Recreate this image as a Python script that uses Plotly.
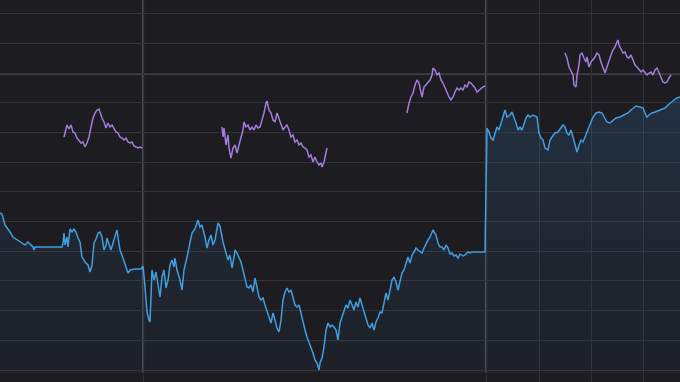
import plotly.graph_objects as go

# Blue series (index level) : day index and value
blue_day = [0, 2, 5, 8, 10, 13, 17, 22, 25, 28, 30, 33, 34, 35, 62, 63, 64, 65, 67, 68,
            70, 72, 74, 76, 78, 80, 82, 85, 88, 90, 92, 94, 96, 98, 100, 102, 104, 106, 107, 109,
            111, 113, 115, 117, 118, 120, 123, 126, 128, 130, 135, 141, 143, 145, 147, 149, 150, 152, 154, 156,
            158, 160, 162, 164, 166, 168, 170, 172, 174, 175, 177, 180, 182, 184, 187, 190, 192, 195, 198, 200,
            202, 205, 207, 209, 211, 213, 215, 218, 220, 223, 226, 228, 230, 232, 234, 235, 237, 239, 241, 243,
            245, 247, 249, 251, 253, 255, 257, 259, 261, 263, 265, 267, 269, 271, 273, 275, 277, 279, 281, 283,
            285, 287, 289, 291, 293, 295, 297, 299, 301, 303, 305, 307, 309, 311, 313, 315, 317, 319, 320, 322,
            324, 326, 328, 330, 332, 334, 336, 338, 340, 342, 344, 346, 348, 350, 352, 354, 356, 358, 360, 362,
            364, 366, 368, 370, 372, 374, 376, 378, 380, 382, 384, 386, 388, 390, 392, 394, 396, 398, 400, 402,
            404, 406, 408, 410, 412, 414, 416, 418, 420, 422, 424, 426, 428, 430, 432, 433, 436, 438, 440, 442,
            444, 446, 448, 450, 452, 454, 456, 458, 460, 463, 465, 468, 470, 472, 485, 486, 487, 489, 491, 493,
            495, 497, 499, 501, 503, 505, 507, 510, 512, 514, 516, 518, 520, 522, 524, 526, 528, 530, 533, 537,
            539, 541, 543, 545, 548, 550, 552, 555, 558, 561, 563, 565, 567, 569, 571, 573, 575, 577, 579, 581,
            583, 585, 587, 589, 591, 593, 596, 599, 602, 604, 607, 610, 613, 616, 620, 624, 628, 631, 634, 636,
            640, 643, 645, 647, 649, 652, 655, 658, 662, 665, 668, 671, 674, 677, 680]
blue_val = [187, 186, 175, 171, 168, 163, 160, 157, 155, 158, 156, 153, 150, 153, 153, 157, 167, 155, 163, 153,
            171, 168, 171, 168, 162, 158, 143, 138, 135, 128, 135, 157, 161, 167, 168, 163, 150, 155, 162, 155,
            150, 157, 163, 170, 163, 150, 142, 133, 127, 130, 131, 131, 134, 113, 88, 80, 78, 130, 120, 128,
            117, 103, 123, 130, 112, 120, 135, 140, 133, 142, 130, 120, 110, 130, 143, 157, 167, 171, 180, 173,
            175, 163, 152, 160, 165, 155, 160, 177, 174, 158, 148, 140, 145, 132, 143, 150, 147, 143, 138, 130,
            122, 113, 112, 115, 108, 122, 113, 103, 100, 102, 95, 88, 83, 77, 87, 80, 72, 68, 80, 100,
            108, 112, 108, 110, 103, 95, 93, 95, 87, 77, 70, 63, 58, 52, 47, 40, 37, 30, 37, 42,
            53, 70, 77, 73, 75, 73, 70, 60, 77, 83, 90, 95, 92, 100, 95, 90, 98, 93, 102, 95,
            87, 80, 75, 72, 77, 70, 78, 82, 88, 87, 98, 107, 100, 110, 120, 123, 118, 110, 120, 127,
            130, 137, 143, 137, 145, 148, 152, 150, 148, 147, 152, 157, 160, 163, 167, 170, 165, 157, 153, 153,
            150, 155, 152, 146, 147, 144, 145, 142, 146, 144, 145, 148, 147, 148, 148, 217, 272, 268, 262, 260,
            267, 273, 270, 277, 285, 290, 283, 285, 288, 283, 277, 270, 273, 270, 277, 282, 285, 283, 285, 283,
            267, 262, 260, 252, 250, 260, 263, 267, 268, 272, 275, 273, 267, 265, 270, 263, 255, 248, 255, 260,
            258, 263, 268, 273, 280, 283, 287, 288, 287, 283, 278, 277, 280, 282, 283, 285, 287, 290, 292, 294,
            293, 292, 287, 283, 285, 287, 288, 289, 291, 292, 295, 298, 300, 302, 303]

# Purple series: four separate windows
p1_day = [64, 65, 67, 69, 71, 73, 75, 77, 79, 81, 83, 85, 87, 89, 91, 93, 95, 97, 99, 100,
          102, 104, 106, 108, 110, 112, 114, 116, 118, 120, 122, 124, 126, 128, 130, 132, 134, 136, 138, 140, 142]
p1_val = [263, 268, 275, 271, 275, 268, 267, 262, 260, 257, 258, 253, 257, 263, 273, 282, 287, 290, 291, 287,
          282, 278, 272, 277, 273, 275, 272, 268, 267, 263, 262, 260, 262, 258, 257, 258, 254, 253, 252, 253, 252]

p2_day = [222, 223, 224, 225, 226, 228, 229, 231, 233, 235, 237, 239, 241, 243, 244, 246, 248, 250, 252, 254,
          256, 258, 260, 262, 264, 266, 267, 269, 271, 273, 275, 277, 279, 281, 283, 285, 287, 289, 291, 293,
          295, 297, 299, 301, 303, 305, 307, 309, 311, 313, 315, 317, 319, 321, 322, 324, 326, 327]
p2_val = [273, 263, 272, 262, 255, 265, 252, 242, 252, 255, 247, 255, 262, 270, 278, 273, 275, 270, 273, 270,
          275, 272, 273, 280, 287, 297, 299, 290, 287, 280, 278, 287, 282, 275, 270, 273, 275, 270, 263, 265,
          258, 260, 255, 257, 253, 252, 250, 243, 245, 238, 243, 238, 235, 237, 233, 238, 247, 252]

p3_day = [407, 408, 409, 411, 413, 415, 417, 419, 421, 422, 424, 426, 428, 430, 432, 433, 435, 437, 439, 441,
          443, 445, 447, 449, 451, 453, 455, 457, 459, 461, 463, 465, 467, 469, 471, 473, 475, 477, 479, 481, 483, 485]
p3_val = [287, 292, 297, 303, 307, 315, 320, 317, 308, 303, 313, 315, 318, 320, 325, 332, 330, 325, 327, 320,
          317, 312, 308, 303, 300, 303, 308, 312, 310, 312, 310, 315, 313, 318, 317, 315, 312, 308, 310, 312, 313, 314]

p4_day = [565, 567, 569, 571, 573, 574, 576, 577, 579, 580, 582, 584, 586, 587, 589, 591, 593, 595, 597, 599,
          601, 603, 605, 607, 609, 611, 613, 615, 617, 618, 619, 621, 623, 625, 627, 629, 631, 633, 635, 637,
          639, 641, 643, 645, 647, 649, 651, 653, 655, 657, 659, 661, 663, 665, 667, 669, 671]
p4_val = [347, 342, 333, 328, 325, 315, 313, 325, 335, 345, 347, 342, 338, 343, 333, 338, 340, 343, 347, 345,
          338, 333, 327, 333, 340, 345, 350, 353, 358, 360, 355, 350, 347, 348, 343, 342, 345, 340, 335, 333,
          330, 328, 330, 327, 325, 327, 328, 325, 330, 332, 327, 322, 318, 317, 318, 322, 325]

# Period boundaries and minor vertical grid
period_marks = [143, 486]
minor_marks = [539, 591, 643]
level_mark = 326

BG = "#1c1c21"
GRID = "#323237"
BRIGHT = "#4b4b51"

purple_x, purple_y = [], []
for dx, dv in [(p1_day, p1_val), (p2_day, p2_val), (p3_day, p3_val), (p4_day, p4_val)]:
    purple_x += dx + [None]
    purple_y += dv + [None]

fig = go.Figure()
fig.add_trace(go.Scatter(
    x=blue_day, y=blue_val, mode="lines",
    line=dict(color="#3f9ee0", width=1.5),
    fill="tozeroy",
    fillgradient=dict(type="vertical", start=27, stop=300,
                      colorscale=[[0, "rgba(45,75,105,0.10)"], [1, "rgba(60,120,175,0.22)"]]),
    hoverinfo="skip", showlegend=False,
))
fig.add_trace(go.Scatter(
    x=purple_x, y=purple_y, mode="lines", connectgaps=False,
    line=dict(color="#a27ddc", width=1.5),
    hoverinfo="skip", showlegend=False,
))

for xm in period_marks:
    fig.add_shape(type="line", xref="x", yref="paper", x0=xm, x1=xm, y0=0, y1=1,
                  line=dict(color=BRIGHT, width=2.2), layer="below")
fig.add_shape(type="line", xref="paper", yref="y", x0=0, x1=1, y0=level_mark, y1=level_mark,
              line=dict(color="#3e3e44", width=2), layer="below")

fig.update_layout(
    width=680, height=382,
    margin=dict(l=0, r=0, t=0, b=9),
    paper_bgcolor=BG, plot_bgcolor=BG,
    xaxis=dict(range=[0, 680], showgrid=True, gridcolor=GRID, gridwidth=1,
               tickmode="array", tickvals=period_marks + minor_marks,
               showticklabels=False, ticks="outside", ticklen=9, tickcolor=GRID,
               zeroline=False, showline=False, fixedrange=True),
    yaxis=dict(range=[27, 400], showgrid=True, gridcolor=GRID, gridwidth=1,
               tick0=30, dtick=29.67, showticklabels=False, ticks="",
               zeroline=False, showline=False, fixedrange=True),
)

fig.write_html("out.html")
